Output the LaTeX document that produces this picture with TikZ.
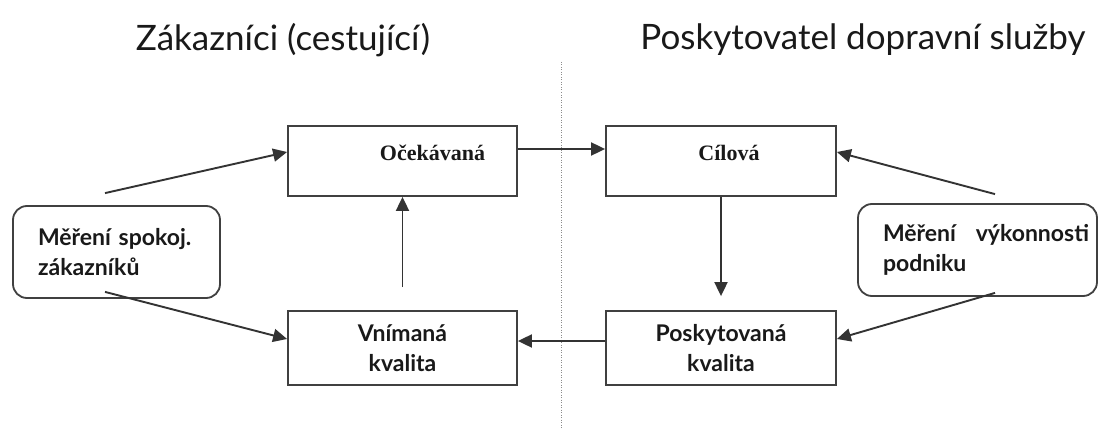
\documentclass[tikz,border=0pt]{standalone}
\usepackage{fontspec}
\setmainfont{Lato}
\newfontfamily\serifbold{Liberation Serif}
\usetikzlibrary{arrows.meta,calc}
\begin{document}
\begin{tikzpicture}[x=1pt,y=-1pt,
  line width=1.9pt,
  every node/.style={inner sep=0pt},
  ttl/.style={font=\fontsize{35}{40}\selectfont, text=black!90},
  sq/.style={draw=black!75, line width=1.8pt, rectangle},
  rb/.style={draw=black!75, line width=1.8pt, rectangle, rounded corners=14pt},
  lab/.style={font=\fontsize{23}{30}\selectfont\bfseries, text=black!90},
  slab/.style={font=\fontsize{22}{26}\selectfont\serifbold\bfseries, text=black!90},
  arr/.style={draw=black!80, -{Triangle[length=14pt,width=13pt]}},
  ln/.style={draw=black!80}]
\useasboundingbox (0,0) rectangle (1101,428);
\fill[white] (0,0) rectangle (1101,428);

\node[ttl] (t1) at (283,40) {Zákazníci (cestující)};
\node[ttl] (t2) at (863,40) {Poskytovatel dopravní služby};

\coordinate (dtop) at (561,62);
\coordinate (dbot) at (561,428);
\draw[black!45, line width=1pt, dash pattern=on 1pt off 1.5pt] (dtop) -- (dbot);

\node[sq, minimum width=229pt, minimum height=70pt,
  label={[slab, xshift=30pt, yshift=8pt]center:Očekávaná}] (oce) at (402.5,161) {};
\node[sq, minimum width=230pt, minimum height=70pt,
  label={[slab, xshift=8pt, yshift=8pt]center:Cílová}] (cil) at (721,161) {};
\node[sq, lab, align=center, minimum width=229pt, minimum height=74pt] (vni) at (402.5,348) {Vnímaná\\kvalita};
\node[sq, lab, align=center, minimum width=230pt, minimum height=74pt] (pos) at (721,348) {Poskytovaná\\kvalita};

\node[rb, lab, align=left, text width=157pt, inner xsep=25pt, minimum height=92pt] (msp) at (116.5,252) {Měření spokoj.\\zákazníků};
\node[rb, lab, align=left, text width=223pt, inner xsep=8pt, minimum height=92pt] (mvy) at (977.5,250) {\hspace*{17pt}Měření\hfill výkonnosti\\\hspace*{17pt}podniku};

\coordinate (m1) at ($(msp.north)+(-11.5,-12)$);
\coordinate (m2) at ($(msp.south)+(-11.5,-7)$);
\coordinate (v1) at ($(mvy.north)+(17.5,-9)$);
\coordinate (v2) at ($(mvy.south)+(17.5,-4)$);

\draw[arr] (m1) -- ([yshift=9pt]oce.west);
\draw[arr] (m2) -- ([yshift=9pt]vni.west);
\draw[arr] ([yshift=12pt]oce.east) -- ([yshift=12pt]cil.west);
\draw[arr] (cil.south) -- ([yshift=14pt]pos.north);
\draw[arr] ([yshift=7pt]pos.west) -- ([yshift=7pt]vni.east);
\draw[arr] ([yshift=23pt]vni.north) -- (oce.south);
\draw[arr] (v1) -- ([yshift=9pt]cil.east);
\draw[arr] (v2) -- ([yshift=9pt]pos.east);
\end{tikzpicture}
\end{document}
